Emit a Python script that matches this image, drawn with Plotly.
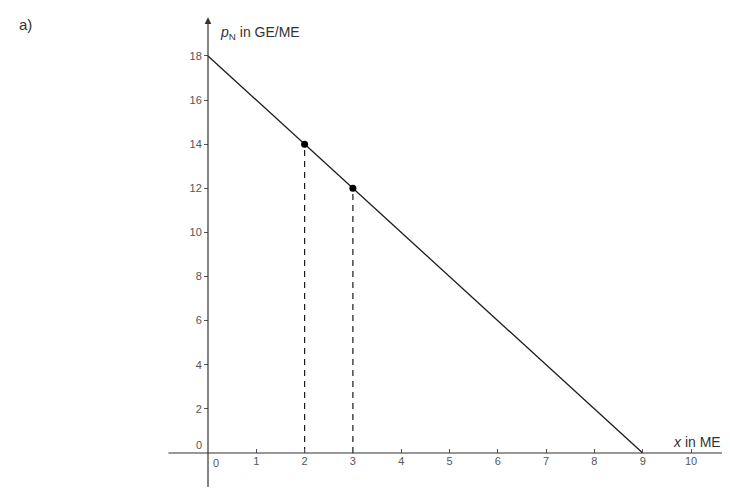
import plotly.graph_objects as go

# demand line p_N(x) = 18 - 2x
line_x = [0, 9]
line_y = [18, 0]

# marked points
point_x = [2, 3]
point_y = [14, 12]

x_ticks = [1, 2, 3, 4, 5, 6, 7, 8, 9, 10]
y_ticks = [2, 4, 6, 8, 10, 12, 14, 16, 18]

# ranges chosen so the page (with its 8px body margin) lines up
x_range = [-4.1408, 10.973]
y_range = [-1.9946, 20.172]

fig = go.Figure()

fig.add_trace(go.Scatter(
    x=line_x, y=line_y, mode="lines",
    line=dict(color="#1a1a1a", width=1.3),
    showlegend=False, hoverinfo="skip",
))

for px_, py_ in zip(point_x, point_y):
    fig.add_trace(go.Scatter(
        x=[px_, px_], y=[0, py_], mode="lines",
        line=dict(color="#1a1a1a", width=1.2, dash="6px,5px"),
        showlegend=False, hoverinfo="skip",
    ))

fig.add_trace(go.Scatter(
    x=point_x, y=point_y, mode="markers",
    marker=dict(color="black", size=7),
    showlegend=False,
))

font = "Liberation Sans, Arial, sans-serif"

# axis lines with arrowheads
fig.add_annotation(x=10.8, y=0, ax=-0.88, ay=0, xref="x", yref="y",
                   axref="x", ayref="y", showarrow=True, arrowhead=2,
                   arrowsize=1.1, arrowwidth=1.2, arrowcolor="#333", text=" ")
fig.add_annotation(x=0, y=19.75, ax=0, ay=-2.0, xref="x", yref="y",
                   axref="x", ayref="y", showarrow=True, arrowhead=2,
                   arrowsize=1.1, arrowwidth=1.2, arrowcolor="#333", text=" ")

# axis titles
fig.add_annotation(x=0.2, y=19.05, xref="x", yref="y", xanchor="left",
                   text="<i>p</i><sub>N</sub> in GE/ME", showarrow=False,
                   font=dict(family=font, size=14, color="#333"))
fig.add_annotation(x=10.66, y=0.5, xref="x", yref="y", xanchor="right",
                   text="<i>x</i> in ME", showarrow=False,
                   font=dict(family=font, size=14, color="#333"))

# origin labels
fig.add_annotation(x=0.17, y=-0.45, xref="x", yref="y", text="0",
                   showarrow=False, font=dict(family=font, size=11, color="#555"))
fig.add_annotation(x=-0.19, y=0.37, xref="x", yref="y", text="0",
                   showarrow=False, font=dict(family=font, size=11, color="#555"))

fig.add_annotation(x=9 / 730, y=1 - 6 / 489, xref="paper", yref="paper",
                   text="a)", showarrow=False,
                   font=dict(family=font, size=15, color="#333"))

fig.update_xaxes(
    range=x_range, anchor="free",
    position=-y_range[0] / (y_range[1] - y_range[0]),
    tickvals=x_ticks, ticks="inside", ticklen=4, tickcolor="#555",
    showline=False, showgrid=False, zeroline=False, automargin=False,
    tickfont=dict(family=font, size=11, color="#555"),
)
fig.update_yaxes(
    range=y_range, anchor="free",
    position=-x_range[0] / (x_range[1] - x_range[0]),
    tickvals=y_ticks, ticks="outside", ticklen=4, tickcolor="#555",
    showline=False, showgrid=False, zeroline=False, automargin=False,
    tickfont=dict(family=font, size=11, color="#555"),
)

fig.update_layout(
    width=730, height=489,
    margin=dict(l=0, r=0, t=0, b=0),
    plot_bgcolor="white", paper_bgcolor="white",
    showlegend=False,
)

fig.write_html("out.html")
